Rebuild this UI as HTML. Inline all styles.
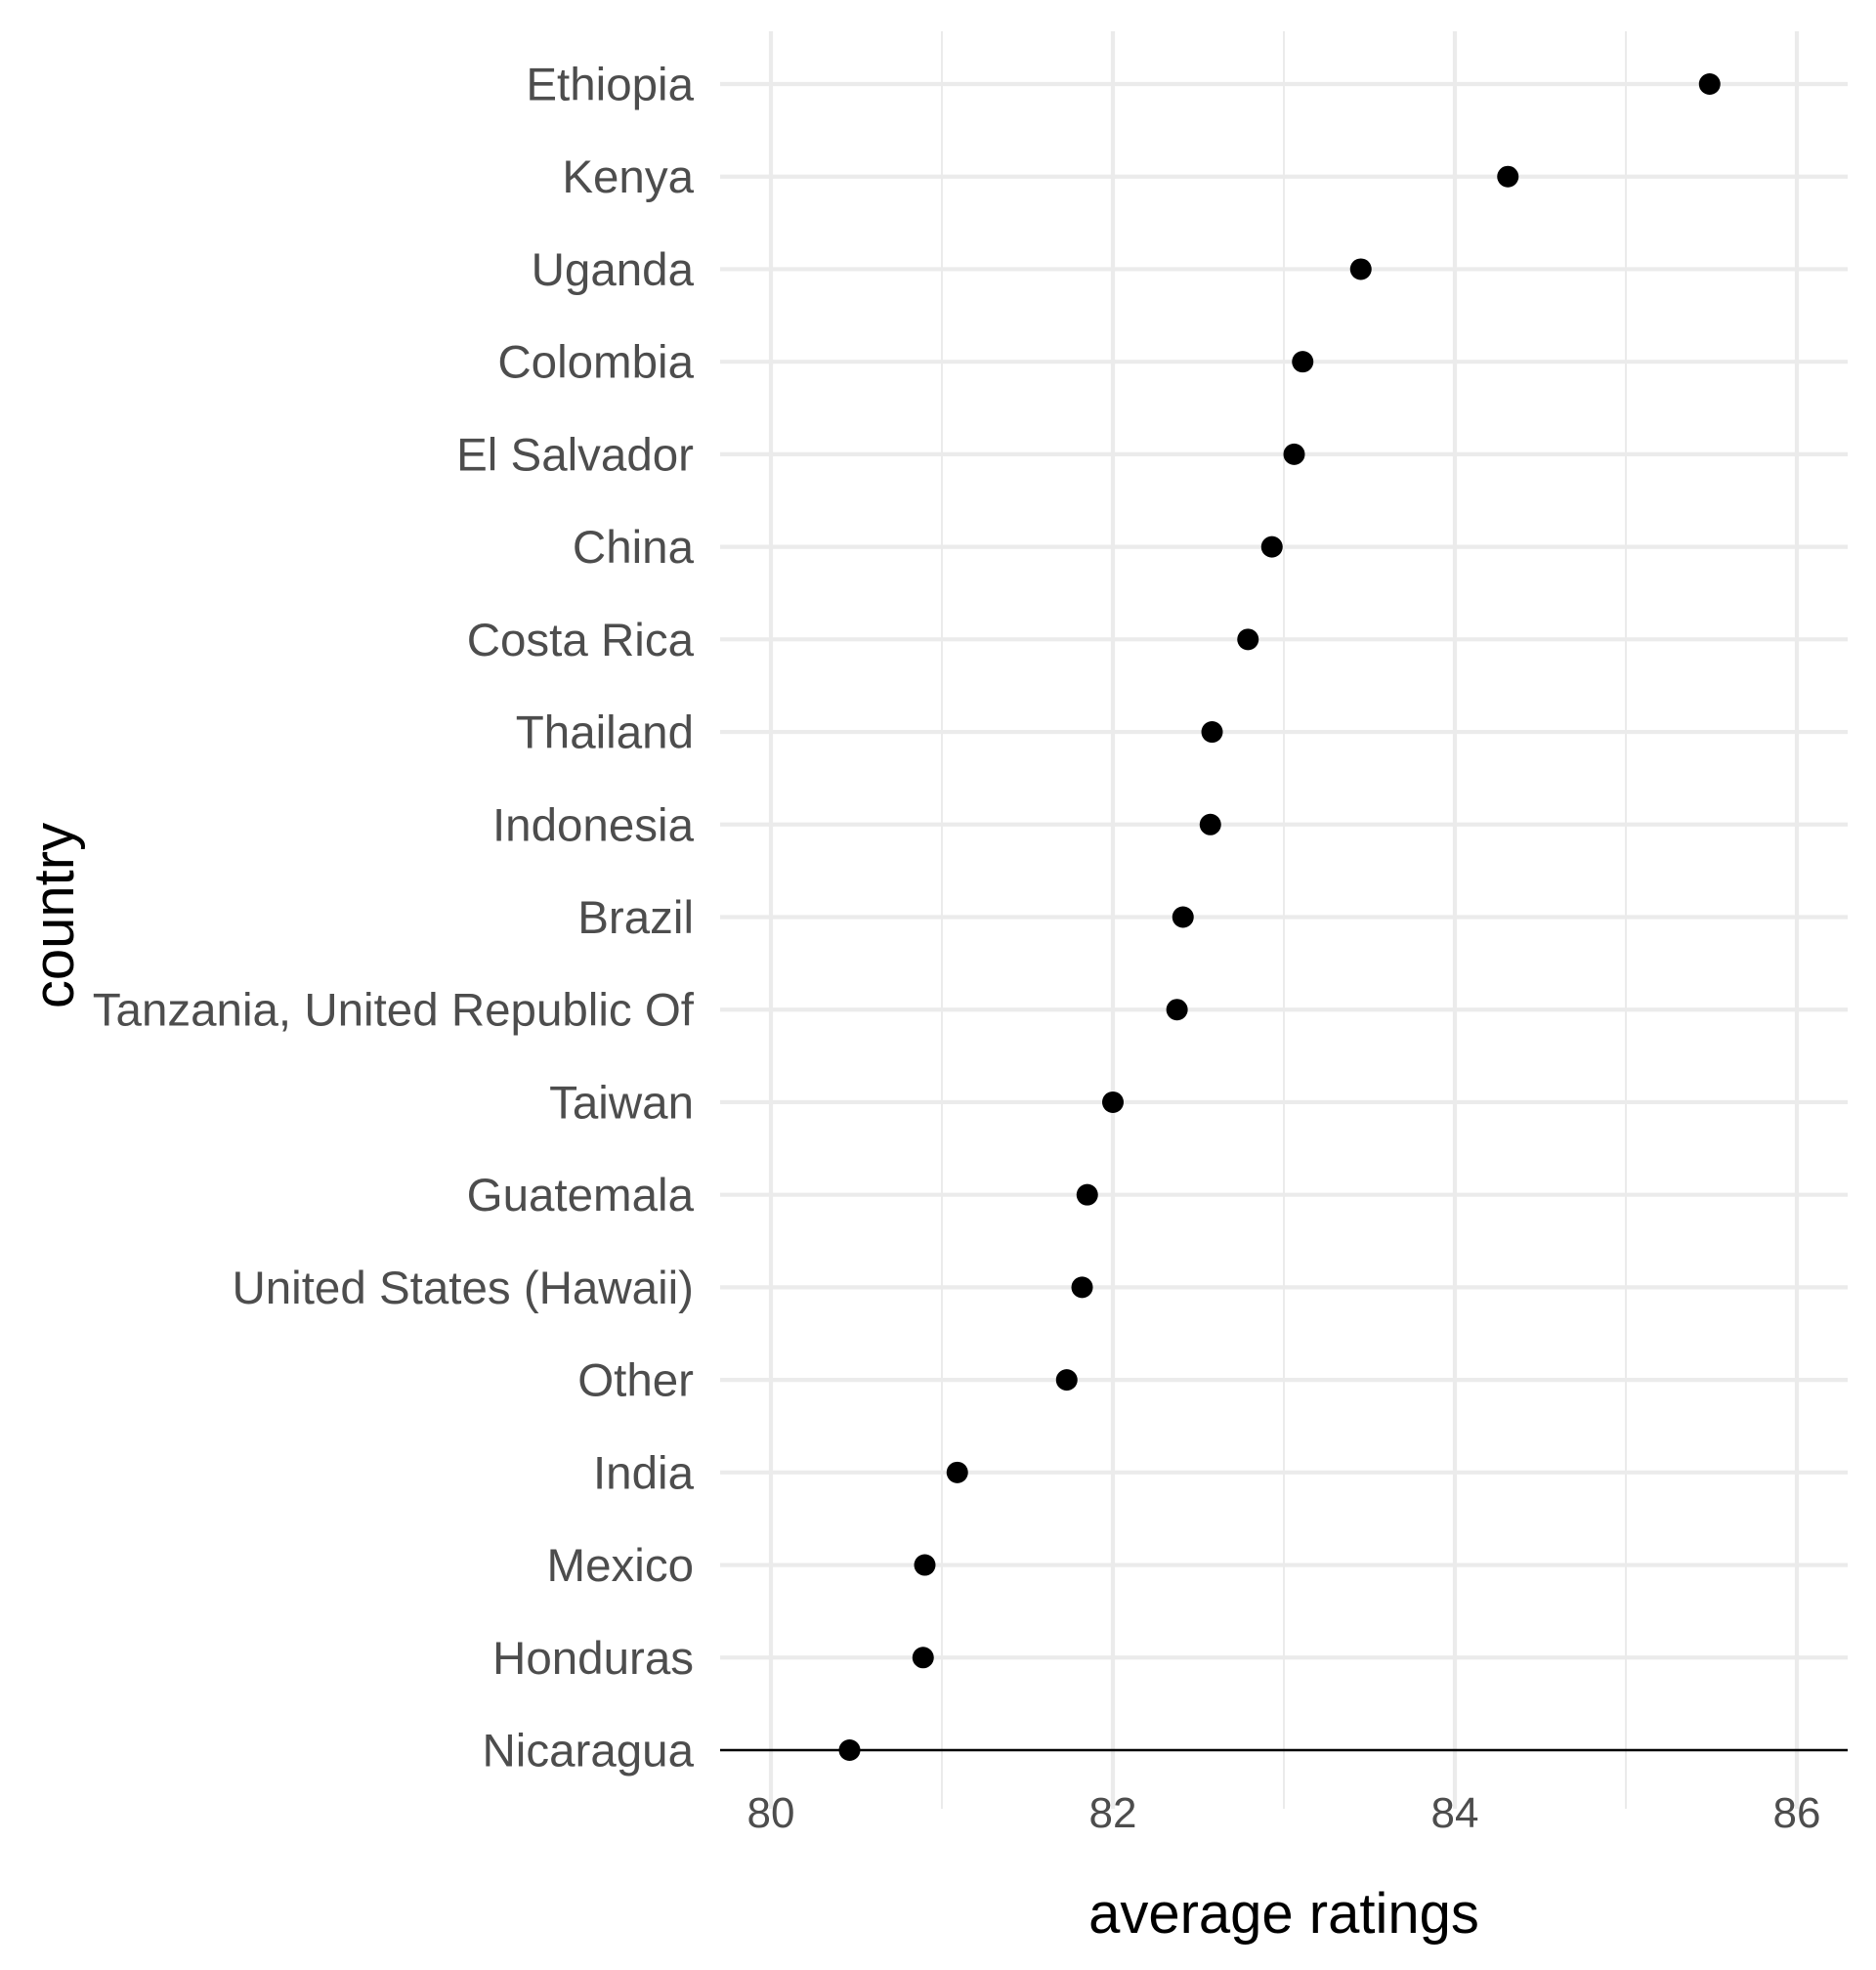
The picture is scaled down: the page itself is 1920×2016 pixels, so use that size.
<!DOCTYPE html>
<html><head><meta charset="utf-8"><style>html,body{margin:0;padding:0;background:#fff}svg{display:block}</style></head>
<body>
<svg width="1920" height="2016" viewBox="0 0 1920 2016" xmlns="http://www.w3.org/2000/svg" font-family="Liberation Sans, Arial, sans-serif">
<rect width="1920" height="2016" fill="#fff"/>
<g stroke="#ebebeb">
<line x1="964" x2="964" y1="32" y2="1851" stroke-width="2"/>
<line x1="1314" x2="1314" y1="32" y2="1851" stroke-width="2"/>
<line x1="1664" x2="1664" y1="32" y2="1851" stroke-width="2"/>
<line x1="789" x2="789" y1="32" y2="1851" stroke-width="4.2"/>
<line x1="1139" x2="1139" y1="32" y2="1851" stroke-width="4.2"/>
<line x1="1489" x2="1489" y1="32" y2="1851" stroke-width="4.2"/>
<line x1="1839" x2="1839" y1="32" y2="1851" stroke-width="4.2"/>
</g>
<g id="rows" stroke="#ebebeb" stroke-width="4.2"></g>
<g id="labels" fill="#4d4d4d" font-size="47.5" text-anchor="end"></g>
<g id="pts" fill="#000"></g>
<g fill="#4d4d4d" font-size="44" text-anchor="middle">
<text x="789" y="1870">80</text><text x="1139" y="1870">82</text><text x="1489" y="1870">84</text><text x="1839" y="1870">86</text>
</g>
<text x="1314" y="1978" font-size="58" text-anchor="middle" fill="#000">average ratings</text>
<text transform="translate(75,937) rotate(-90)" font-size="58" text-anchor="middle" fill="#000">country</text>
<script>
var d=[["Ethiopia",85.49],["Kenya",84.31],["Uganda",83.45],["Colombia",83.11],["El Salvador",83.06],["China",82.93],["Costa Rica",82.79],["Thailand",82.58],["Indonesia",82.57],["Brazil",82.41],["Tanzania, United Republic Of",82.375],["Taiwan",82.0],["Guatemala",81.85],["United States (Hawaii)",81.82],["Other",81.73],["India",81.09],["Mexico",80.90],["Honduras",80.89],["Nicaragua",80.46]];
var ns="http://www.w3.org/2000/svg",r=document.getElementById("rows"),l=document.getElementById("labels"),p=document.getElementById("pts");
var step=(1791-86)/18;
d.forEach(function(e,i){var y=86+i*step;
var ln=document.createElementNS(ns,"line");ln.setAttribute("x1",737);ln.setAttribute("x2",1891);ln.setAttribute("y1",y);ln.setAttribute("y2",y);
if(i==18){ln.setAttribute("stroke","#000");ln.setAttribute("stroke-width","2.5");}
r.appendChild(ln);
var t=document.createElementNS(ns,"text");t.setAttribute("x",710);t.setAttribute("y",y+16.5);t.textContent=e[0];l.appendChild(t);
var c=document.createElementNS(ns,"circle");c.setAttribute("cx",789+(e[1]-80)*175);c.setAttribute("cy",y);c.setAttribute("r",11);p.appendChild(c);});
</script>
</svg>
</body></html>
